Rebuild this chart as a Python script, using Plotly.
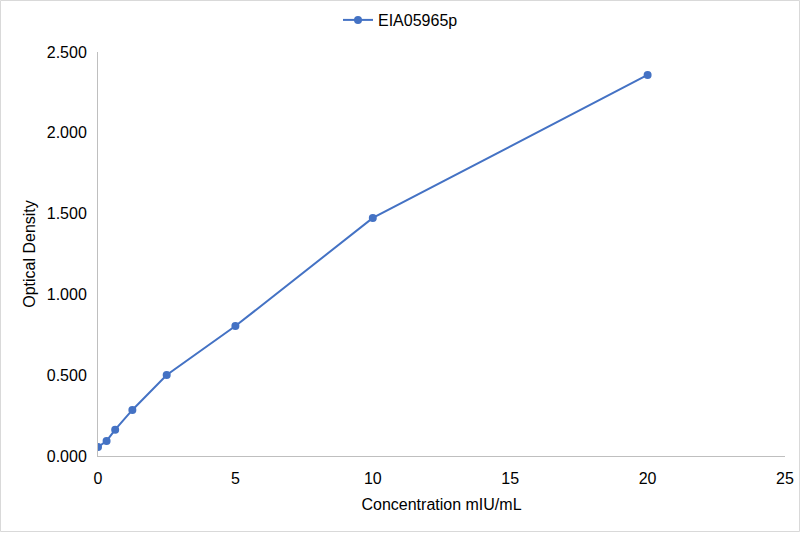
import plotly.graph_objects as go

# standard curve readings
concentration = [0, 0.3125, 0.625, 1.25, 2.5, 5, 10, 20]
optical_density = [0.056, 0.093, 0.163, 0.285, 0.501, 0.804, 1.473, 2.358]
series_name = "EIA05965p"

x_ticks = [0, 5, 10, 15, 20, 25]
y_ticks = [0, 0.5, 1.0, 1.5, 2.0, 2.5]

W, H = 801, 533
L, R, T, B = 98, 16, 52, 77
pw, ph = W - L - R, H - T - B

fig = go.Figure()
fig.add_trace(go.Scatter(
    x=concentration, y=optical_density, name=series_name,
    mode="lines+markers",
    line=dict(color="#4472C4", width=2),
    marker=dict(color="#4472C4", size=8),
))

fig.update_layout(
    width=W, height=H,
    margin=dict(l=L, r=R, t=T, b=B, autoexpand=False),
    paper_bgcolor="white", plot_bgcolor="white",
    font=dict(family="Liberation Sans, Arial", size=16, color="#000000"),
    showlegend=True,
    legend=dict(orientation="h", x=(W / 2 - L) / pw, xanchor="center",
                yref="container", y=1 - 20 / H, yanchor="middle",
                font=dict(size=16)),
    xaxis=dict(
        range=[0, 25], tickvals=x_ticks, showgrid=False, zeroline=False,
        showline=True, linecolor="#BFBFBF", linewidth=1, ticks="",
        tickfont=dict(size=16), ticklabelstandoff=8,
        title=dict(text="Concentration mIU/mL", standoff=12, font=dict(size=16)),
    ),
    yaxis=dict(
        range=[0, 2.5], tickvals=y_ticks, tickformat=".3f", showgrid=False,
        zeroline=False, showline=True, linecolor="#BFBFBF", linewidth=1, ticks="",
        tickfont=dict(size=16), ticklabelstandoff=7,
        title=dict(text="Optical Density", standoff=7, font=dict(size=16)),
    ),
    shapes=[dict(
        type="rect", xref="paper", yref="paper",
        x0=-(L - 0.5) / pw, x1=1 + (R - 1.5) / pw,
        y0=-(B - 1.5) / ph, y1=1 + (T - 0.5) / ph,
        line=dict(color="#D9D9D9", width=1), layer="below",
    )],
)

# drop the default page margin so the chart sits at the window corner
fig.write_html("out.html", config={"displayModeBar": False},
               post_script="document.body.style.margin='0';")
